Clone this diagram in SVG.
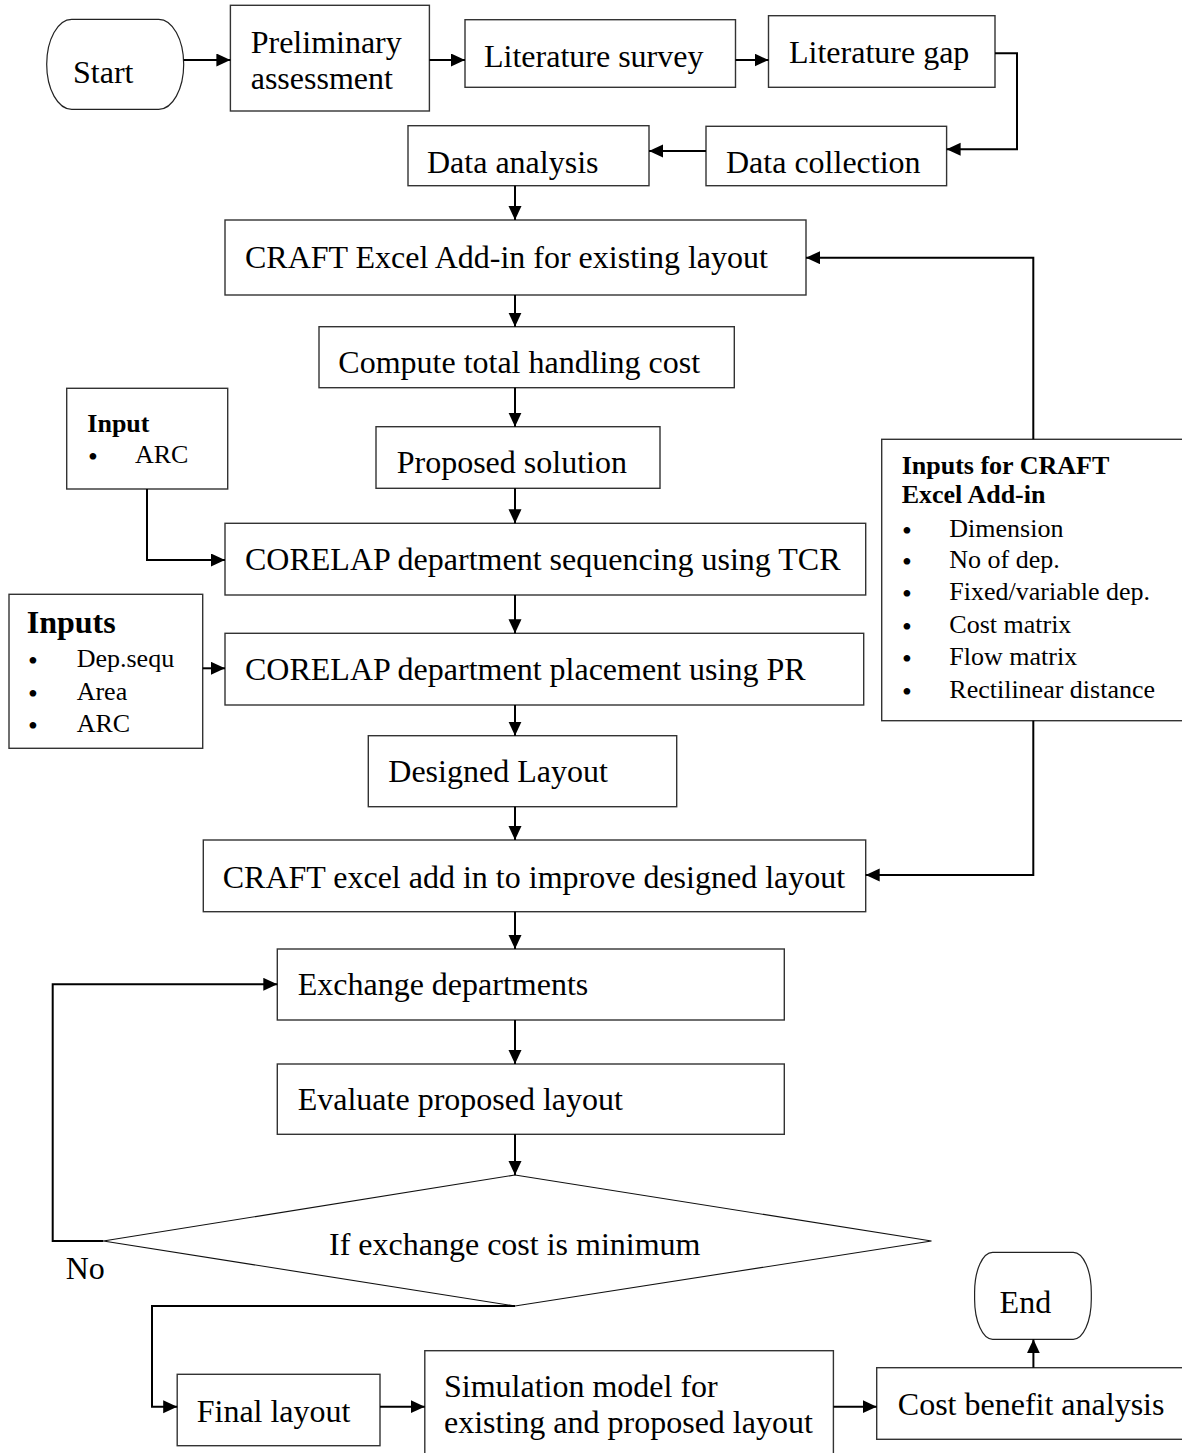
<svg xmlns="http://www.w3.org/2000/svg" width="1182" height="1453" viewBox="0 0 1182 1453">
<style>
.box{fill:#fff;stroke:#333;stroke-width:1.4}
.term{fill:#fff;stroke:#222;stroke-width:1.2}
.dia{fill:#fff;stroke:#111;stroke-width:1.1}
.t{font-family:"Liberation Serif","Times New Roman",serif;font-size:32px;fill:#000}
.s{font-family:"Liberation Serif","Times New Roman",serif;font-size:26px;fill:#000}
.bu{font-family:"Liberation Serif","Times New Roman",serif;font-size:28px;fill:#000}
.b{font-weight:bold}
.c{fill:none;stroke:#000;stroke-width:2}
</style>
<defs>
<marker id="ah" markerUnits="userSpaceOnUse" markerWidth="15" markerHeight="14" refX="14" refY="6.5" orient="auto">
<path d="M0,0 L14,6.5 L0,13 z" fill="#000"/>
</marker>
</defs>
<rect width="1182" height="1453" fill="#fff"/>

<g id="start"><rect class="term" x="46.7" y="19.3" width="137" height="90" rx="25" ry="45"/><text class="t" x="73" y="83">Start</text></g>
<g id="prelim"><rect class="box" x="230.4" y="5.3" width="199" height="105.7"/><text class="t" x="250.7" y="53">Preliminary</text><text class="t" x="250.7" y="89">assessment</text></g>
<g id="litsurvey"><rect class="box" x="465" y="19.7" width="270.5" height="67.6"/><text class="t" x="484" y="67">Literature survey</text></g>
<g id="litgap"><rect class="box" x="768.5" y="15.7" width="226.5" height="71.6"/><text class="t" x="789" y="63">Literature gap</text></g>
<g id="datacollection"><rect class="box" x="706" y="126.3" width="240.6" height="59.4"/><text class="t" x="726" y="173">Data collection</text></g>
<g id="dataanalysis"><rect class="box" x="408" y="125.7" width="241" height="60"/><text class="t" x="427" y="173">Data analysis</text></g>
<g id="craft1"><rect class="box" x="225" y="220" width="581" height="75"/><text class="t" x="245" y="268">CRAFT Excel Add-in for existing layout</text></g>
<g id="compute"><rect class="box" x="319" y="326.7" width="415.3" height="61"/><text class="t" x="338.3" y="373">Compute total handling cost</text></g>
<g id="proposed"><rect class="box" x="376" y="426.7" width="284" height="61.6"/><text class="t" x="396.7" y="473">Proposed solution</text></g>
<g id="input1"><rect class="box" x="66.7" y="388.3" width="161" height="100.7"/><text class="s b" x="87.3" y="431.7">Input</text><text class="bu" x="88" y="466">•</text><text class="s" x="135" y="463">ARC</text></g>
<g id="corelapseq"><rect class="box" x="225" y="523.3" width="640.7" height="71.7"/><text class="t" x="245" y="570">CORELAP department sequencing using TCR</text></g>
<g id="inputs2"><rect class="box" x="9" y="594.3" width="193.7" height="154"/><text class="t b" x="26.7" y="633.3">Inputs</text><text class="bu" x="28" y="670">•</text><text class="s" x="76.7" y="667">Dep.sequ</text><text class="bu" x="28" y="703">•</text><text class="s" x="76.7" y="700">Area</text><text class="bu" x="28" y="735">•</text><text class="s" x="76.7" y="732">ARC</text></g>
<g id="corelapplace"><rect class="box" x="225" y="633.3" width="638.7" height="71.7"/><text class="t" x="245" y="680">CORELAP department placement using PR</text></g>
<g id="craftinputs"><rect class="box" x="881.7" y="439.3" width="310" height="281.4"/><text class="s b" x="901.7" y="474">Inputs for CRAFT</text><text class="s b" x="901.7" y="503.3">Excel Add-in</text><text class="bu" x="902" y="539.7">•</text><text class="s" x="949.3" y="536.7">Dimension</text><text class="bu" x="902" y="571.3">•</text><text class="s" x="949.3" y="568.3">No of dep.</text><text class="bu" x="902" y="603">•</text><text class="s" x="949.3" y="600">Fixed/variable dep.</text><text class="bu" x="902" y="636.3">•</text><text class="s" x="949.3" y="633.3">Cost matrix</text><text class="bu" x="902" y="668">•</text><text class="s" x="949.3" y="665">Flow matrix</text><text class="bu" x="902" y="701.3">•</text><text class="s" x="949.3" y="698.3">Rectilinear distance</text></g>
<g id="designed"><rect class="box" x="368.3" y="735.7" width="308.4" height="71"/><text class="t" x="388.3" y="781.7">Designed Layout</text></g>
<g id="craft2"><rect class="box" x="203.3" y="840" width="662.4" height="71.7"/><text class="t" x="222.7" y="888.3">CRAFT excel add in to improve designed layout</text></g>
<g id="exchange"><rect class="box" x="277.3" y="949" width="507" height="71"/><text class="t" x="297.7" y="995">Exchange departments</text></g>
<g id="evaluate"><rect class="box" x="277.3" y="1064" width="507" height="70.3"/><text class="t" x="297.7" y="1110">Evaluate proposed layout</text></g>
<g id="decision"><polygon class="dia" points="515,1175 931.5,1241 515,1306 103.3,1241"/><text class="t" x="329" y="1255">If exchange cost is minimum</text></g>
<g id="nolabel"><text class="t" x="65.7" y="1279.3">No</text></g>
<g id="final"><rect class="box" x="177.2" y="1374.3" width="202.8" height="71.4"/><text class="t" x="196.7" y="1421.7">Final layout</text></g>
<g id="simulation"><rect class="box" x="424.8" y="1350.7" width="408.6" height="110"/><text class="t" x="444" y="1396.7">Simulation model for</text><text class="t" x="444" y="1433.3">existing and proposed layout</text></g>
<g id="costbenefit"><rect class="box" x="876.7" y="1367.7" width="315" height="71.6"/><text class="t" x="897.8" y="1415">Cost benefit analysis</text></g>
<g id="end"><rect class="term" x="974.6" y="1252.3" width="116.7" height="87" rx="18" ry="40"/><text class="t" x="999.6" y="1312.7">End</text></g>

<g id="connectors">
<path class="c" marker-end="url(#ah)" d="M183.7,60 H230.4"/>
<path class="c" marker-end="url(#ah)" d="M429.4,60 H465"/>
<path class="c" marker-end="url(#ah)" d="M735.5,60 H768.5"/>
<path class="c" marker-end="url(#ah)" d="M995,53.3 H1017 V149.3 H946.6"/>
<path class="c" marker-end="url(#ah)" d="M706,151 H649"/>
<path class="c" marker-end="url(#ah)" d="M515,185.7 V220"/>
<path class="c" marker-end="url(#ah)" d="M515,295 V326.7"/>
<path class="c" marker-end="url(#ah)" d="M515,387.7 V426.7"/>
<path class="c" marker-end="url(#ah)" d="M515,488.3 V523.3"/>
<path class="c" marker-end="url(#ah)" d="M147,489 V560 H225"/>
<path class="c" marker-end="url(#ah)" d="M515,595 V633.3"/>
<path class="c" marker-end="url(#ah)" d="M202.7,668.3 H225"/>
<path class="c" marker-end="url(#ah)" d="M515,705 V735.7"/>
<path class="c" marker-end="url(#ah)" d="M515,806.7 V840"/>
<path class="c" marker-end="url(#ah)" d="M1033.3,439.3 V257.7 H806"/>
<path class="c" marker-end="url(#ah)" d="M1033.3,720.7 V875 H865.7"/>
<path class="c" marker-end="url(#ah)" d="M515,911.7 V949"/>
<path class="c" marker-end="url(#ah)" d="M515,1020 V1064"/>
<path class="c" marker-end="url(#ah)" d="M515,1134.3 V1175"/>
<path class="c" marker-end="url(#ah)" d="M103.3,1241 H52.7 V984.3 H277.3"/>
<path class="c" marker-end="url(#ah)" d="M515,1306 H152 V1406.7 H177.2"/>
<path class="c" marker-end="url(#ah)" d="M380,1406.7 H424.8"/>
<path class="c" marker-end="url(#ah)" d="M833.4,1406.7 H876.7"/>
<path class="c" marker-end="url(#ah)" d="M1033.4,1367.7 V1339.3"/>
</g>
</svg>
